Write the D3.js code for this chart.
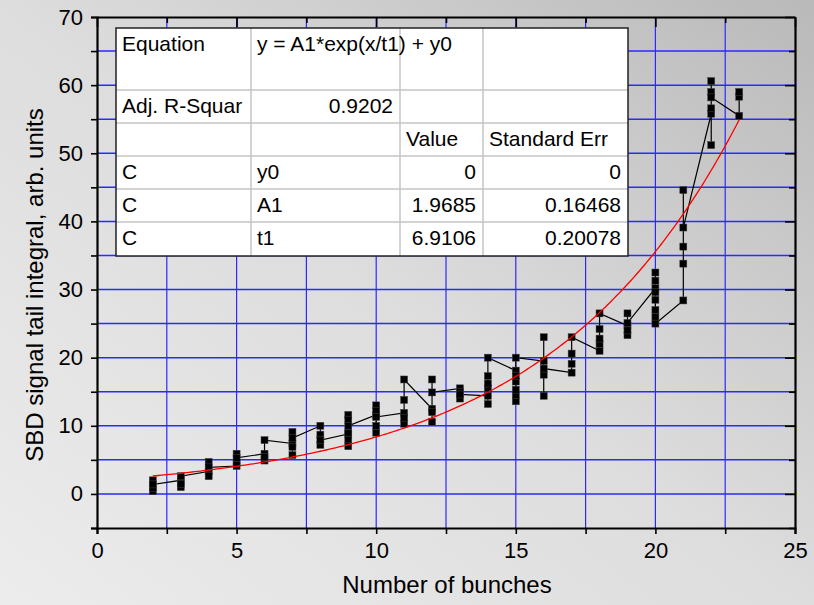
<!DOCTYPE html>
<html>
<head>
<meta charset="utf-8">
<script src="https://cdn.jsdelivr.net/npm/d3@7"></script>
<style>
  body { margin: 0; padding: 0; overflow: hidden; }
  svg { display: block; font-family: Arial, "Liberation Sans", sans-serif; }
</style>
</head>
<body>
<svg width="814" height="605"></svg>
<script>
//chart size
const SVG_WIDTH = 814;
const SVG_HEIGHT = 605;

//number of bunches measured
var bunches = [2, 3, 4, 5, 6, 7, 8, 9, 10, 11, 12, 13, 14, 15, 16, 17, 18, 19, 20, 21, 22, 23];
//signal values for each bunch count, in the order the line goes through them
var signal = [
  [2.0, 0.4, 0.9, 1.4],
  [2.0, 1.0, 1.5, 2.6],
  [3.3, 2.6, 4.7, 3.9],
  [4.1, 4.6, 5.9, 5.3],
  [5.9, 4.9, 5.4, 7.9],
  [7.4, 5.7, 6.9, 9.1, 8.2],
  [10.0, 8.7, 7.2, 7.9],
  [8.8, 7.0, 8.0, 9.0, 11.6, 10.9, 10.0],
  [11.6, 13.0, 12.2, 9.0, 10.0, 11.3],
  [11.9, 10.3, 11.2, 13.8, 16.8],
  [12.5, 10.6, 12.0, 16.8, 14.9],
  [15.5, 15.0, 14.0, 14.6],
  [14.4, 13.2, 15.5, 16.2, 17.3, 20.0],
  [18.1, 13.6, 14.5, 15.3, 16.5, 17.3, 20.0],
  [19.5, 23.0, 14.4, 17.5, 18.4],
  [17.8, 19.1, 20.6, 23.0],
  [21.0, 22.0, 22.8, 24.2, 26.5],
  [24.7, 23.3, 24.0, 26.5, 25.1],
  [30.2, 32.5, 31.3, 29.6, 28.5, 27.0, 26.0, 25.0],
  [28.4, 33.8, 36.3, 44.6, 39.1],
  [55.8, 51.2, 56.6, 60.6, 59.0, 58.2],
  [55.5, 58.3, 59.0]
];
//fit parameters  y = A1*exp(x/t1) + y0
var fitA1 = 1.9685;
var fitT1 = 6.9106;
var fitY0 = 0;
var fitRange = [2, 23];

//axis ticks
var xTicks = [0, 5, 10, 15, 20, 25];
var yTicks = [0, 10, 20, 30, 40, 50, 60, 70];

//the fit result table
var tableRows = [
  ['Equation', 'y = A1*exp(x/t1) + y0', '', ''],
  ['Adj. R-Squar', '0.9202', '', ''],
  ['', '', 'Value', 'Standard Err'],
  ['C', 'y0', '0', '0'],
  ['C', 'A1', '1.9685', '0.16468'],
  ['C', 't1', '6.9106', '0.20078']
];

var svg = d3.select('svg');

//background gradient
var defs = svg.append('defs');
var grad = defs.append('linearGradient')
  .attr('id', 'bg')
  .attr('x1', '0%').attr('y1', '100%')
  .attr('x2', '100%').attr('y2', '0%');
grad.append('stop').attr('offset', '0%').attr('stop-color', '#ececec');
grad.append('stop').attr('offset', '50%').attr('stop-color', '#dddddd');
grad.append('stop').attr('offset', '100%').attr('stop-color', '#b9b9b9');

svg.append('rect')
  .attr('width', SVG_WIDTH)
  .attr('height', SVG_HEIGHT)
  .attr('fill', 'url(#bg)');

//scales
var x = d3.scaleLinear().domain([0, 25]).range([97, 795]);
var y = d3.scaleLinear().domain([-5, 70]).range([528, 17]);

//grid lines
svg.append('g')
  .selectAll('line')
  .data(d3.range(2.5, 25, 2.5))
  .enter()
  .append('line')
    .attr('x1', function(d) { return x(d); })
    .attr('x2', function(d) { return x(d); })
    .attr('y1', y(70))
    .attr('y2', y(-5))
    .attr('stroke', '#2a2aff')
    .attr('stroke-width', 1.2);

svg.append('g')
  .selectAll('line')
  .data(d3.range(0, 70, 5))
  .enter()
  .append('line')
    .attr('x1', x(0))
    .attr('x2', x(25))
    .attr('y1', function(d) { return y(d); })
    .attr('y2', function(d) { return y(d); })
    .attr('stroke', '#2a2aff')
    .attr('stroke-width', 1.5);

//axes
var bottomAxis = svg.append('g')
  .attr('transform', 'translate(0,' + y(-5) + ')')
  .call(d3.axisBottom(x).tickValues(d3.range(0, 25.1, 2.5)).tickSize(6).tickPadding(8)
        .tickFormat(function(d) { return xTicks.includes(d) ? d : ''; }));

var leftAxis = svg.append('g')
  .attr('transform', 'translate(' + x(0) + ',0)')
  .call(d3.axisLeft(y).tickValues(d3.range(-5, 70.1, 5)).tickSize(6).tickPadding(8)
        .tickFormat(function(d) { return yTicks.includes(d) ? d : ''; }));

var topAxis = svg.append('g')
  .attr('transform', 'translate(0,' + y(70) + ')')
  .call(d3.axisBottom(x).tickValues(d3.range(0, 25.1, 2.5)).tickSizeInner(0).tickSizeOuter(0).tickFormat(''));
topAxis.selectAll('.tick line')
  .attr('y2', function(d) { return d % 5 === 0 ? 10 : 6; });

var rightAxis = svg.append('g')
  .attr('transform', 'translate(' + x(25) + ',0)')
  .call(d3.axisLeft(y).tickValues(d3.range(-5, 70.1, 5)).tickSizeInner(0).tickSizeOuter(0).tickFormat(''));
rightAxis.selectAll('.tick line')
  .attr('x2', function(d) { return d % 10 === 0 ? -10 : -6; });

svg.selectAll('.domain')
  .attr('stroke', 'black')
  .attr('stroke-width', 2.2);
svg.selectAll('.tick line')
  .attr('stroke', 'black')
  .attr('stroke-width', 1.6);
svg.selectAll('.tick text')
  .attr('font-size', 22)
  .attr('font-family', 'Arial, Liberation Sans, sans-serif')
  .attr('fill', 'black');

//axis titles
svg.append('text')
  .attr('x', 447)
  .attr('y', 593)
  .attr('text-anchor', 'middle')
  .attr('font-size', 24)
  .text('Number of bunches');

svg.append('text')
  .attr('transform', 'translate(43, 285) rotate(-90)')
  .attr('text-anchor', 'middle')
  .attr('font-size', 24)
  .text('SBD signal tail integral, arb. units');

//flatten the measured points into one sequence for the line
var points = [];
bunches.forEach(function(b, i) {
  signal[i].forEach(function(v) { points.push({n: b, value: v}); });
});

var line = d3.line()
  .x(function(d) { return x(d.n); })
  .y(function(d) { return y(d.value); });

svg.append('path')
  .attr('d', line(points))
  .attr('fill', 'none')
  .attr('stroke', 'black')
  .attr('stroke-width', 1.2);

svg.append('g')
  .selectAll('rect')
  .data(points)
  .enter()
  .append('rect')
    .attr('x', function(d) { return x(d.n) - 3.5; })
    .attr('y', function(d) { return y(d.value) - 3.5; })
    .attr('width', 7)
    .attr('height', 7)
    .attr('fill', 'black')
    .attr('stroke', '#444')
    .attr('stroke-width', 0.5);

//fit curve
var fitPts = d3.range(fitRange[0], fitRange[1] + 0.001, 0.1).map(function(t) {
  return {n: t, value: fitA1 * Math.exp(t / fitT1) + fitY0};
});
svg.append('path')
  .attr('d', line(fitPts))
  .attr('fill', 'none')
  .attr('stroke', '#ff0000')
  .attr('stroke-width', 1.3);

//results table
var colX = [116, 251, 400, 483, 628];
var rowY = [28, 90, 123, 156, 189, 222, 256];
var table = svg.append('g');

table.append('rect')
  .attr('x', colX[0])
  .attr('y', rowY[0])
  .attr('width', colX[4] - colX[0])
  .attr('height', rowY[6] - rowY[0])
  .attr('fill', 'white');

//inner lines
table.selectAll('.hline')
  .data(rowY.slice(1, 6))
  .enter()
  .append('line')
    .attr('x1', colX[0]).attr('x2', colX[4])
    .attr('y1', function(d) { return d; }).attr('y2', function(d) { return d; })
    .attr('stroke', '#c4c4c4').attr('stroke-width', 1.5);
table.selectAll('.vline')
  .data(colX.slice(1, 4))
  .enter()
  .append('line')
    .attr('x1', function(d) { return d; }).attr('x2', function(d) { return d; })
    .attr('y1', rowY[0]).attr('y2', rowY[6])
    .attr('stroke', '#c4c4c4').attr('stroke-width', 1.5);

table.append('rect')
  .attr('x', colX[0])
  .attr('y', rowY[0])
  .attr('width', colX[4] - colX[0])
  .attr('height', rowY[6] - rowY[0])
  .attr('fill', 'none')
  .attr('stroke', '#222')
  .attr('stroke-width', 1.5);

//cell texts: numbers right aligned, headers and names left aligned
tableRows.forEach(function(row, r) {
  row.forEach(function(txt, c) {
    if (txt === '') return;
    var right = /^[0-9.]+$/.test(txt);
    table.append('text')
      .attr('x', right ? colX[c + 1] - 7 : colX[c] + 6)
      .attr('y', rowY[r] + 23)
      .attr('text-anchor', right ? 'end' : 'start')
      .attr('font-size', 21)
      .text(txt);
  });
});
</script>
</body>
</html>
